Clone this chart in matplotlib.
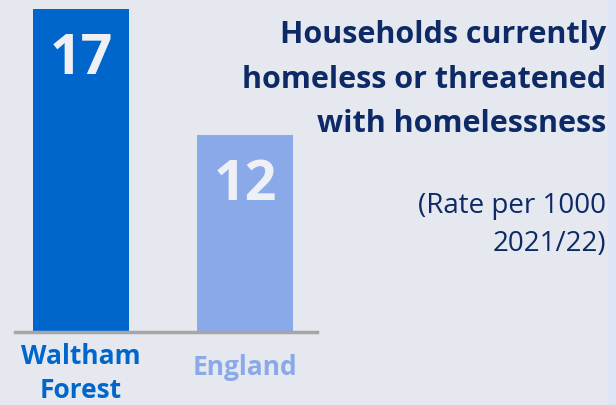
import matplotlib.pyplot as plt

# data
categories = ['Waltham\nForest', 'England']
values = [17, 12]
value_labels = ['17', '12']
bar_colors = ['#0066CC', '#8AA9E8']

title = 'Households currently\nhomeless or threatened\nwith homelessness'
subtitle = '(Rate per 1000\n2021/22)'

bg = '#E6E8F0'
navy = '#0D2A66'

plt.rcParams['font.family'] = ['Open Sans', 'DejaVu Sans']

fig = plt.figure(figsize=(6.16, 4.05), dpi=100, facecolor=bg)
# light strip on right edge
fig.patches.append(plt.Rectangle((608 / 616, 0), 8 / 616, 1, transform=fig.transFigure,
                                 color='#DCE6F4', zorder=0))

ax = fig.add_axes([15 / 616, 1 - 332 / 405, 302 / 616, 332 / 405])
ax.set_facecolor(bg)
x = list(range(len(categories)))
bars = ax.bar(x, values, width=0.585, color=bar_colors, zorder=2)
ax.set_ylim(4.19, 17.36)
ax.set_xlim(-0.402, 1.439)

for s in ['top', 'right', 'left']:
    ax.spines[s].set_visible(False)
ax.spines['bottom'].set_color('#A6A6A6')
ax.spines['bottom'].set_linewidth(2.5)
ax.set_yticks([])
ax.set_xticks([])

for xi, v, lab in zip(x, values, value_labels):
    ax.annotate(lab, (xi, v), xytext=(0, -36), textcoords='offset points',
                ha='center', va='center', color='#EEF0F6', fontsize=40, fontweight='bold')

offsets = [-8, -16]
for xi, cat, c, off in zip(x, categories, bar_colors, offsets):
    ax.annotate(cat, (xi, 4.19), xytext=(0, off), textcoords='offset points',
                ha='center', va='top', color=c, fontsize=19, fontweight='bold',
                linespacing=1.35, annotation_clip=False)

fig.text(606 / 616, 1 - 20 / 405, title, ha='right', va='top', color=navy,
         fontsize=22, fontweight='bold', linespacing=1.64)
fig.text(606 / 616, 1 - 192 / 405, subtitle, ha='right', va='top', color=navy,
         fontsize=20, linespacing=1.49)

fig.savefig('out.png', dpi=100, facecolor=bg)
